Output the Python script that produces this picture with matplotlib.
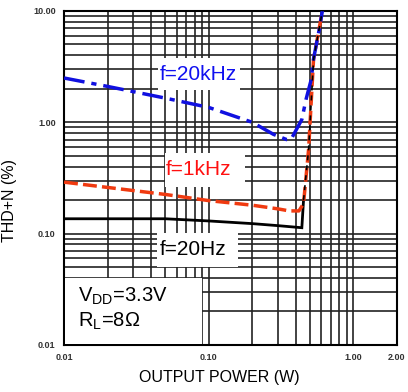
import matplotlib
matplotlib.use('Agg')
import matplotlib.pyplot as plt
from matplotlib.patches import Rectangle
from matplotlib.ticker import FixedLocator, FixedFormatter, LogLocator, NullFormatter

plt.rcParams['font.family'] = ['Liberation Sans', 'DejaVu Sans']
plt.rcParams['mathtext.fontset'] = 'custom'
plt.rcParams['mathtext.rm'] = 'Liberation Sans'

# f=20kHz (blue, dash-dot)
p_20k = [0.01, 0.02, 0.05, 0.10, 0.20, 0.28, 0.345, 0.37, 0.44, 0.47, 0.51, 0.53, 0.58, 0.61]
thd_20k = [2.5, 2.1, 1.65, 1.36, 1.0, 0.78, 0.70, 0.70, 1.06, 1.6, 2.4, 3.7, 6.8, 10.0]

# f=1kHz (red, dashed)
p_1k = [0.01, 0.02, 0.05, 0.10, 0.20, 0.30, 0.36, 0.42, 0.452, 0.49, 0.53, 0.61]
thd_1k = [0.29, 0.26, 0.225, 0.198, 0.18, 0.167, 0.16, 0.16, 0.186, 0.57, 3.67, 10.0]

# f=20Hz (black, solid then dashed on the steep part)
p_20 = [0.01, 0.02, 0.05, 0.10, 0.20, 0.30, 0.44, 0.452]
thd_20 = [0.136, 0.136, 0.136, 0.13, 0.123, 0.118, 0.113, 0.20]
p_20_clip = [0.452, 0.49, 0.53, 0.61]
thd_20_clip = [0.20, 0.57, 3.67, 10.0]

x_ticks = [0.01, 0.1, 1.0, 2.0]
x_labels = ['0.01', '0.10', '1.00', '2.00']
y_ticks = [0.01, 0.1, 1.0, 10.0]
y_labels = ['0.01', '0.10', '1.00', '10.00']

fig = plt.figure(figsize=(4.08, 3.92), dpi=100)
ax = fig.add_axes([0.157, 0.12, 0.816, 0.852])

ax.set_xscale('log')
ax.set_yscale('log')
ax.set_xlim(0.01, 2.0)
ax.set_ylim(0.01, 10.0)

ax.plot(p_20, thd_20, color='black', lw=2, solid_joinstyle='miter', zorder=3)
ax.plot(p_1k, thd_1k, color='#f03a10', lw=2.5, linestyle=(0, (4, 1.5)), zorder=4)
ax.plot(p_20_clip, thd_20_clip, color='black', lw=1.2, linestyle=(0, (3, 3)), zorder=5)
ax.plot(p_20k, thd_20k, color='#1010e0', lw=2.5, linestyle=(0, (6, 2, 1.5, 2)), zorder=4)

ax.xaxis.set_major_locator(FixedLocator(x_ticks))
ax.xaxis.set_major_formatter(FixedFormatter(x_labels))
ax.xaxis.set_minor_locator(LogLocator(base=10, subs=range(2, 10)))
ax.xaxis.set_minor_formatter(NullFormatter())
ax.yaxis.set_major_locator(FixedLocator(y_ticks))
ax.yaxis.set_major_formatter(FixedFormatter(y_labels))
ax.yaxis.set_minor_locator(LogLocator(base=10, subs=range(2, 10)))
ax.yaxis.set_minor_formatter(NullFormatter())

ax.grid(True, which='both', color='#222222', lw=1.2)
ax.tick_params(which='both', length=0)
ax.tick_params(axis='both', labelsize=6.5, pad=6)
for lab in ax.get_xticklabels() + ax.get_yticklabels():
    lab.set_fontweight('bold')
    lab.set_color('#333333')
for s in ax.spines.values():
    s.set_linewidth(1.5)

ax.set_xlabel('OUTPUT POWER (W)', fontsize=11.5)
ax.set_ylabel('THD+N (%)', fontsize=11.5)
ax.xaxis.set_label_coords(0.465, -0.075)
ax.yaxis.set_label_coords(-0.141, 0.434)

# white label boxes (axes coords)
boxes = [(0.282, 0.763, 0.247, 0.096),
         (0.303, 0.473, 0.241, 0.102),
         (0.279, 0.234, 0.244, 0.101),
         (0.004, 0.004, 0.410, 0.196)]
for bx, by, bw, bh in boxes:
    ax.add_patch(Rectangle((bx, by), bw, bh, transform=ax.transAxes,
                           facecolor='white', edgecolor='none', zorder=6))

ax.text(0.402, 0.793, 'f=20kHz', color='#1010f0', fontsize=15, ha='center', va='baseline',
        transform=ax.transAxes, zorder=7)
ax.text(0.404, 0.509, 'f=1kHz', color='#ff1010', fontsize=15, ha='center', va='baseline',
        transform=ax.transAxes, zorder=7)
ax.text(0.386, 0.269, 'f=20Hz', color='black', fontsize=15, ha='center', va='baseline',
        transform=ax.transAxes, zorder=7)
ax.text(0.042, 0.129, '$\\mathregular{V_{DD}}$=3.3V', color='black', fontsize=14.5,
        ha='left', va='baseline', transform=ax.transAxes, zorder=7)
ax.text(0.042, 0.054, '$\\mathregular{R_L}$=8Ω', color='black', fontsize=14.5,
        ha='left', va='baseline', transform=ax.transAxes, zorder=7)

plt.savefig('out.png', dpi=100)
